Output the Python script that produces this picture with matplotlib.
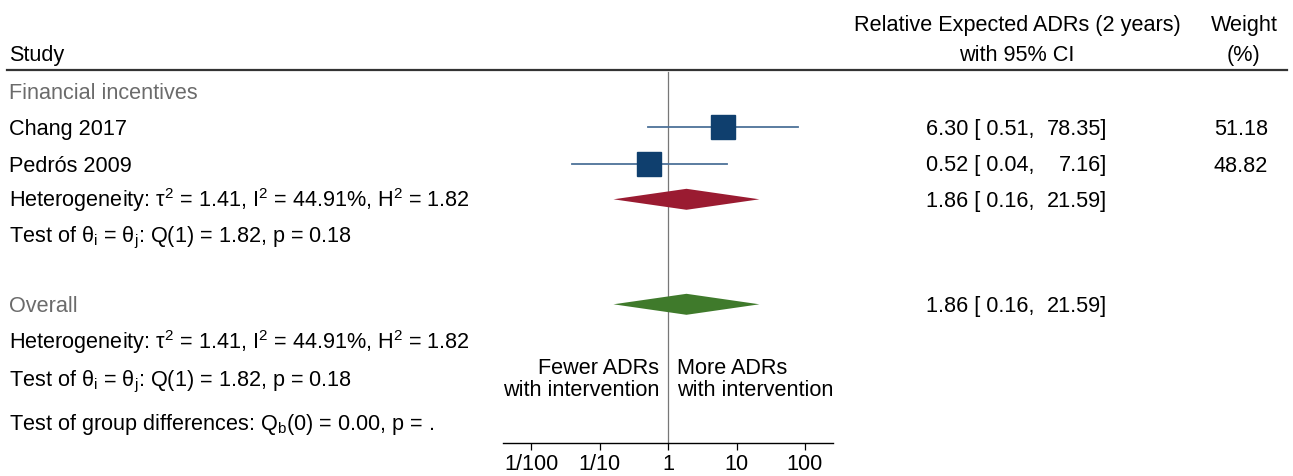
import matplotlib.pyplot as plt
import numpy as np

plt.rcParams['font.family'] = ['Liberation Sans', 'DejaVu Sans']
plt.rcParams['mathtext.fontset'] = 'custom'
plt.rcParams['mathtext.rm'] = 'Liberation Sans'
plt.rcParams['mathtext.it'] = 'Liberation Serif:italic'
plt.rcParams['mathtext.default'] = 'rm'

# ---------------- data ----------------
studies = ["Chang 2017", "Pedrós 2009"]
est = [6.30, 0.52]
ci_lo = [0.51, 0.04]
ci_hi = [78.35, 7.16]
weights = [51.18, 48.82]

sub_est, sub_lo, sub_hi = 1.86, 0.16, 21.59
ov_est, ov_lo, ov_hi = 1.86, 0.16, 21.59

tick_vals = [0.01, 0.1, 1, 10, 100]
tick_labels = ["1/100", "1/10", "1", "10", "100"]

het_text = r"Heterogeneity: $\tau^2$ = 1.41, I$^2$ = 44.91%, H$^2$ = 1.82"
test_text = r"Test of $\theta_\mathrm{i}$ = $\theta_\mathrm{j}$: Q(1) = 1.82, p = 0.18"
grp_text = r"Test of group differences: Q$_\mathrm{b}$(0) = 0.00, p = ."

# ---------------- layout (pixels) ----------------
W, H = 1293, 476
FS = 15.6
BL = 8  # baseline offset below row centre
row_y = {"group": 91, "s0": 127, "s1": 163.5, "het": 199.3, "test": 234.5,
         "overall": 304.3, "het2": 341.3, "test2": 378, "grp": 422}

fig = plt.figure(figsize=(W / 100, H / 100), dpi=100)

# text layer in pixel coordinates
bg = fig.add_axes([0, 0, 1, 1])
bg.set_xlim(0, W)
bg.set_ylim(H, 0)
bg.axis('off')


def txt(x, key, s, **kw):
    bg.text(x, row_y[key] + BL, s, fontsize=FS, va='baseline', **kw)


# forest plot axes
ax_l, ax_r, ax_t, ax_b = 503, 833, 70, 442.5
ax = fig.add_axes([ax_l / W, 1 - ax_b / H, (ax_r - ax_l) / W, (ax_b - ax_t) / H])
ax.set_xscale('log')
half = (ax_r - ax_l) / 2 / 68.5
ax.set_xlim(10 ** -half, 10 ** half)
ax.set_ylim(ax_b, ax_t)
ax.patch.set_alpha(0)
for s in ['top', 'left', 'right']:
    ax.spines[s].set_visible(False)
ax.spines['bottom'].set_linewidth(1.0)
ax.set_yticks([])
ax.set_xticks(tick_vals)
ax.set_xticklabels(tick_labels, fontsize=FS)
ax.minorticks_off()
ax.tick_params(axis='x', length=5, width=0.9, pad=3)

# null line
ax.plot([1, 1], [ax_t + 2, ax_b], color='#777777', lw=0.9, zorder=1)

# study CIs and squares
sq_col = '#0f3f6e'
ci_col = '#4d7299'
for i in range(len(studies)):
    y = row_y["s%d" % i]
    ax.plot([ci_lo[i], ci_hi[i]], [y, y], color=ci_col, lw=1.3, zorder=2)
    ax.plot(est[i], y, marker='s', color=sq_col,
            markersize=17.3 * np.sqrt(weights[i] / max(weights)), zorder=3)


def diamond(e, lo, hi, y, col):
    h = 10.5
    ax.fill([lo, e, hi, e], [y, y - h, y, y + h], color=col, lw=0, zorder=3)


diamond(sub_est, sub_lo, sub_hi, row_y["het"], '#9a1b31')
diamond(ov_est, ov_lo, ov_hi, row_y["overall"], '#3f7a2b')

# direction labels
ax.text(0.74, 374, "Fewer ADRs", ha='right', va='baseline', fontsize=FS)
ax.text(0.74, 396, "with intervention", ha='right', va='baseline', fontsize=FS)
ax.text(1.36, 374, "More ADRs", ha='left', va='baseline', fontsize=FS)
ax.text(1.36, 396, "with intervention", ha='left', va='baseline', fontsize=FS)

# header
bg.plot([7, 1287], [70, 70], color='#333333', lw=1.6)
bg.text(9, 61, "Study", fontsize=FS, va='baseline', ha='left')
bg.text(1017, 30.7, "Relative Expected ADRs (2 years)", fontsize=FS, va='baseline', ha='center')
bg.text(1017, 61, "with 95% CI", fontsize=FS, va='baseline', ha='center')
bg.text(1244, 30.7, "Weight", fontsize=FS, va='baseline', ha='center')
bg.text(1244, 61, "(%)", fontsize=FS, va='baseline', ha='center')

# left column
gray = '#6b6b6b'
txt(9, "group", "Financial incentives", color=gray)
for i, s in enumerate(studies):
    txt(9, "s%d" % i, s)
txt(9, "het", het_text)
txt(9, "test", test_text)
txt(9, "overall", "Overall", color=gray)
txt(9, "het2", het_text)
txt(9, "test2", test_text)
txt(9, "grp", grp_text)


# right columns
def ci_row(key, e, lo, hi):
    txt(926, key, "%.2f [ %.2f," % (e, lo), ha='left')
    txt(1107, key, "%.2f]" % hi, ha='right')


for i in range(len(studies)):
    ci_row("s%d" % i, est[i], ci_lo[i], ci_hi[i])
    txt(1268, "s%d" % i, "%.2f" % weights[i], ha='right')
ci_row("het", sub_est, sub_lo, sub_hi)
ci_row("overall", ov_est, ov_lo, ov_hi)

fig.savefig("out.png", dpi=100)
